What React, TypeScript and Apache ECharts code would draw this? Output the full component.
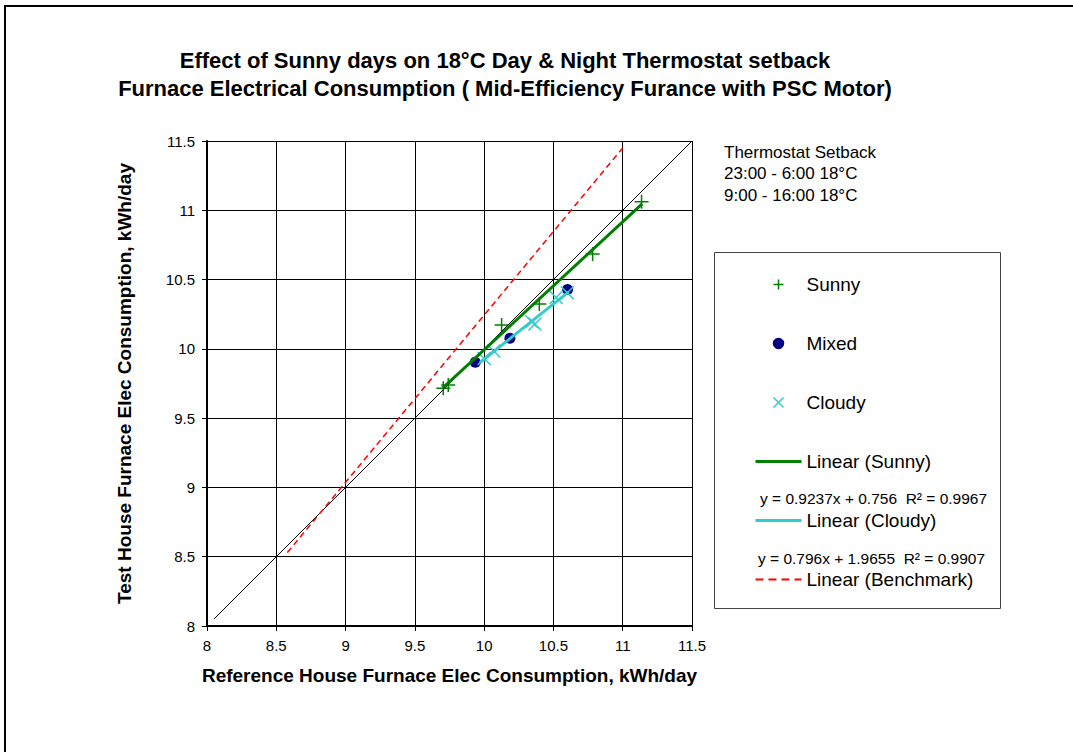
import React, { useEffect, useRef } from "react";
import * as echarts from "echarts";

const titleLines = [
  "Effect of Sunny days on 18°C Day & Night Thermostat setback",
  "Furnace Electrical Consumption ( Mid-Efficiency Furance with PSC Motor)",
];
const noteLines = ["Thermostat Setback", "23:00 - 6:00 18°C", "9:00 - 16:00 18°C"];
const xAxisTitle = "Reference House Furnace Elec Consumption, kWh/day";
const yAxisTitle = "Test House Furnace Elec Consumption, kWh/day";

const sunnyX = [9.705, 9.741, 10.126, 10.398, 10.783, 11.136];
const sunnyY = [9.715, 9.739, 10.172, 10.323, 10.684, 11.061];
const mixedX = [9.936, 10.186, 10.602];
const mixedY = [9.903, 10.076, 10.429];
const cloudyX = [10.0, 10.07, 10.343, 10.367, 10.52, 10.6];
const cloudyY = [9.93, 9.985, 10.196, 10.18, 10.37, 10.405];

const sunnyFit = { slope: 0.9237, intercept: 0.756, r2: 0.9967, xFrom: 9.7, xTo: 11.14 };
const cloudyFit = { slope: 0.796, intercept: 1.9655, r2: 0.9907, xFrom: 9.97, xTo: 10.61 };
const benchmarkX = [8.58, 11.0];
const benchmarkY = [8.53, 11.45];
const equalityX = [8.05, 11.5];

const axisMin = 8;
const axisMax = 11.5;
const axisStep = 0.5;

const FONT = "'Liberation Sans', Arial, sans-serif";
const PLUS = "path://M5 0 L5 10 M0 5 L10 5";
const CROSS = "path://M0 0 L10 10 M10 0 L0 10";

const pairs = (xs: number[], ys: number[]) => xs.map((x, i) => [x, ys[i]]);
const fitLine = (f: { slope: number; intercept: number; xFrom: number; xTo: number }) =>
  [f.xFrom, f.xTo].map((x) => [x, f.slope * x + f.intercept]);
const eqText = (f: { slope: number; intercept: number; r2: number }) =>
  `y = ${f.slope}x + ${f.intercept}  R² = ${f.r2}`;

export default function App() {
  const ref = useRef<HTMLDivElement>(null);
  useEffect(() => {
    if (!ref.current) return;
    const chart = echarts.init(ref.current, null, { renderer: "svg" });
    const axisCommon = {
      type: "value",
      min: axisMin,
      max: axisMax,
      interval: axisStep,
      axisLine: { show: true, onZero: false, lineStyle: { color: "#000", width: 2 } },
      axisTick: { show: true, inside: false, length: 5, lineStyle: { color: "#000", width: 1 } },
      axisLabel: { color: "#000", fontSize: 15, fontFamily: FONT, margin: 12 },
      splitLine: { show: true, showMinLine: false, showMaxLine: true, lineStyle: { color: "#000", width: 1 } },
      nameLocation: "middle",
      nameTextStyle: { color: "#000", fontSize: 19, fontWeight: "bold", fontFamily: FONT },
    };
    const hideSym = { itemStyle: { opacity: 0 } };
    chart.setOption({
      animation: false,
      backgroundColor: "#fff",
      grid: { left: 207, top: 141, width: 485, height: 485 },
      xAxis: { ...axisCommon, name: xAxisTitle, nameGap: 40 },
      yAxis: { ...axisCommon, name: yAxisTitle, nameGap: 73 },
      legend: {
        orient: "vertical",
        left: 754,
        top: 275,
        itemWidth: 46,
        itemHeight: 10,
        itemGap: 40,
        padding: 0,
        selectedMode: false,
        textStyle: { color: "#000", fontSize: 19, fontFamily: FONT },
        itemStyle: { borderWidth: 1.5 },
        lineStyle: { width: "inherit" },
        data: [
          { name: "Sunny" },
          { name: "Mixed" },
          { name: "Cloudy" },
          { name: "Linear (Sunny)", ...hideSym },
          { name: "Linear (Cloudy)", ...hideSym },
          { name: "Linear (Benchmark)", ...hideSym, lineStyle: { width: 2.2, type: [8, 5] } },
        ],
      },
      graphic: [
        { type: "rect", shape: { x: 5, y: 6, width: 1100, height: 800 }, style: { fill: "none", stroke: "#000", lineWidth: 2 }, silent: true },
        ...titleLines.map((t, i) => ({
          type: "text",
          x: 505,
          y: 60 + i * 28,
          style: { text: t, fill: "#000", font: `bold 22px ${FONT}`, align: "center", verticalAlign: "middle" },
        })),
        ...noteLines.map((t, i) => ({
          type: "text",
          x: 724,
          y: 152 + i * 21.5,
          style: { text: t, fill: "#000", font: `17px ${FONT}`, align: "left", verticalAlign: "middle" },
        })),
        { type: "rect", z: -1, shape: { x: 714.5, y: 252.5, width: 286, height: 356 }, style: { fill: "#fff", stroke: "#444", lineWidth: 1 } },
        { type: "text", x: 760, y: 498, style: { text: eqText(sunnyFit), fill: "#000", font: `15.5px ${FONT}`, verticalAlign: "middle" } },
        { type: "text", x: 758, y: 558, style: { text: eqText(cloudyFit), fill: "#000", font: `15.5px ${FONT}`, verticalAlign: "middle" } },
      ],
      series: [
        {
          type: "line",
          name: "Equality",
          data: equalityX.map((x) => [x, x]),
          symbol: "none",
          silent: true,
          lineStyle: { color: "#000", width: 1 },
        },
        {
          type: "line",
          name: "Linear (Benchmark)",
          data: pairs(benchmarkX, benchmarkY),
          symbol: "none",
          silent: true,
          itemStyle: { color: "#FF0000" },
          lineStyle: { color: "#FF0000", width: 1.5, type: [6, 4] },
        },
        {
          type: "scatter",
          name: "Sunny",
          data: pairs(sunnyX, sunnyY),
          symbol: PLUS,
          symbolSize: 14,
          itemStyle: { color: "#008000", borderColor: "#008000", borderWidth: 1.5, opacity: 1 },
        },
        {
          type: "scatter",
          name: "Mixed",
          data: pairs(mixedX, mixedY),
          symbol: "circle",
          symbolSize: 11,
          itemStyle: { color: "#000080", borderColor: "#000080", borderWidth: 0, opacity: 1 },
        },
        {
          type: "scatter",
          name: "Cloudy",
          data: pairs(cloudyX, cloudyY),
          symbol: CROSS,
          symbolSize: 13,
          itemStyle: { color: "#33CCCC", borderColor: "#33CCCC", borderWidth: 1.5, opacity: 1 },
        },
        {
          type: "line",
          name: "Linear (Sunny)",
          data: fitLine(sunnyFit),
          symbol: "none",
          silent: true,
          itemStyle: { color: "#008000" },
          lineStyle: { color: "#008000", width: 3 },
        },
        {
          type: "line",
          name: "Linear (Cloudy)",
          data: fitLine(cloudyFit),
          symbol: "none",
          silent: true,
          itemStyle: { color: "#33CCCC" },
          lineStyle: { color: "#33CCCC", width: 3 },
        },
      ],
    });
    return () => chart.dispose();
  }, []);
  return (
    <div
      ref={ref}
      style={{ position: "absolute", left: 0, top: 0, width: 1073, height: 752, background: "#fff" }}
    />
  );
}
